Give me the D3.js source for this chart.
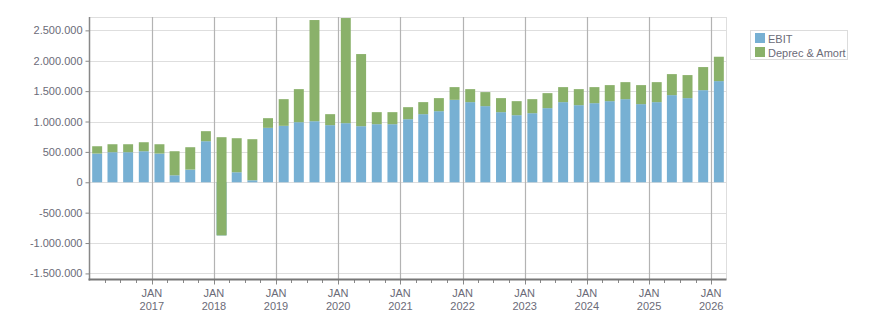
<!DOCTYPE html>
<html>
<head>
<meta charset="utf-8">
<script src="https://cdn.jsdelivr.net/npm/d3@7"></script>
<style>
  html, body { margin: 0; padding: 0; background: #fff; }
  svg { display: block; font-family: "Liberation Sans", Arial, sans-serif; }
</style>
</head>
<body>
<svg id="chart" width="876" height="313"></svg>
<script>
// Quarterly periods
const periods = [
  "2016-02-15","2016-05-15","2016-08-15","2016-11-15",
  "2017-02-15","2017-05-15","2017-08-15","2017-11-15",
  "2018-02-15","2018-05-15","2018-08-15","2018-11-15",
  "2019-02-15","2019-05-15","2019-08-15","2019-11-15",
  "2020-02-15","2020-05-15","2020-08-15","2020-11-15",
  "2021-02-15","2021-05-15","2021-08-15","2021-11-15",
  "2022-02-15","2022-05-15","2022-08-15","2022-11-15",
  "2023-02-15","2023-05-15","2023-08-15","2023-11-15",
  "2024-02-15","2024-05-15","2024-08-15","2024-11-15",
  "2025-02-15","2025-05-15","2025-08-15","2025-11-15",
  "2026-02-15"
];
const ebit = [
  473000, 495000, 495000, 511000,
  473000, 115000, 209000, 676000,
  -874000, 165000, 33000, 896000,
  929000, 989000, 1005000, 940000,
  973000, 923000, 956000, 956000,
  1038000, 1121000, 1170000, 1357000,
  1319000, 1253000, 1154000, 1104000,
  1137000, 1220000, 1319000, 1269000,
  1302000, 1335000, 1368000, 1286000,
  1319000, 1434000, 1385000, 1516000,
  1665000
];
const deprecAmort = [
  120000, 131000, 131000, 148000,
  153000, 396000, 368000, 165000,
  1616000, 560000, 676000, 159000,
  439000, 544000, 1665000, 181000,
  1730000, 1187000, 198000, 198000,
  198000, 198000, 215000, 209000,
  214000, 231000, 231000, 231000,
  231000, 247000, 247000, 264000,
  264000, 264000, 280000, 313000,
  329000, 346000, 379000, 380000,
  401000
];
const seriesNames = ["EBIT", "Deprec & Amort"];
const seriesColors = ["#77b0d3", "#8ab16a"];
const yTickValues = [-1500000, -1000000, -500000, 0, 500000, 1000000, 1500000, 2000000, 2500000];
const yDomain = [-1600000, 2720000];

const parse = d3.timeParse("%Y-%m-%d");
const rows = periods.map((p, i) => ({ date: parse(p), ebit: ebit[i], da: deprecAmort[i] }));

const svg = d3.select("#chart");
const m = { left: 89.5, right: 726.5, top: 17, bottom: 279.5 };
const dayMs = 864e5;
const x = d3.scaleTime()
  .domain([new Date(rows[0].date - 45 * dayMs), new Date(+rows[rows.length - 1].date + 45 * dayMs)])
  .range([m.left, m.right]);
const y = d3.scaleLinear().domain(yDomain).range([m.bottom, m.top]);

const locale = d3.formatLocale({ decimal: ",", thousands: ".", grouping: [3], currency: ["", ""], minus: "-" });
const fmt = locale.format(",d");
const textColor = "#6b6b78";

// horizontal gridlines
svg.append("g").selectAll("line").data(yTickValues).join("line")
  .attr("x1", m.left).attr("x2", m.right)
  .attr("y1", d => Math.round(y(d)) + 0.5).attr("y2", d => Math.round(y(d)) + 0.5)
  .attr("stroke", "#dedede").attr("stroke-width", 1);

// plot frame (top and right)
svg.append("line").attr("x1", m.left).attr("x2", m.right).attr("y1", m.top + 0.5).attr("y2", m.top + 0.5)
  .attr("stroke", "#dedede");
svg.append("line").attr("x1", m.right).attr("x2", m.right).attr("y1", m.top).attr("y2", m.bottom)
  .attr("stroke", "#dedede");

// vertical year gridlines
const years = d3.timeYear.range(d3.timeYear.ceil(x.domain()[0]), x.domain()[1]).filter(d => x(d) > m.left + 5);
svg.append("g").selectAll("line").data(years).join("line")
  .attr("x1", d => Math.round(x(d)) + 0.5).attr("x2", d => Math.round(x(d)) + 0.5)
  .attr("y1", m.top).attr("y2", m.bottom)
  .attr("stroke", "#b3b3b3").attr("stroke-width", 1.2);

// bars (naive cumulative stacking)
const stack = d3.stack().keys(["ebit", "da"]).offset(d3.stackOffsetNone);
const stacked = stack(rows);
const step = x(rows[1].date) - x(rows[0].date);
const bw = step * 0.65;
svg.append("g").selectAll("g").data(stacked).join("g")
  .attr("fill", (d, i) => seriesColors[i])
  .selectAll("rect").data(d => d).join("rect")
  .attr("x", d => x(d.data.date) - bw / 2)
  .attr("width", bw)
  .attr("y", d => y(Math.max(d[0], d[1])))
  .attr("height", d => Math.abs(y(d[0]) - y(d[1])));

// y axis
const yAxis = svg.append("g").attr("transform", `translate(${m.left},0)`)
  .call(d3.axisLeft(y).tickValues(yTickValues).tickFormat(fmt).tickSize(4).tickPadding(3));
yAxis.select(".domain").remove();
yAxis.selectAll(".tick line").attr("stroke", "#888");
yAxis.selectAll("text").attr("fill", textColor).attr("font-size", 11)
  .attr("font-family", "'Liberation Sans', Arial, sans-serif");
svg.append("line").attr("x1", m.left).attr("x2", m.left).attr("y1", m.top).attr("y2", m.bottom + 1)
  .attr("stroke", "#888").attr("stroke-width", 1.5);

// x axis: minor quarterly ticks
const quarters = d3.timeMonth.every(3).range(x.domain()[0], x.domain()[1]).filter(d => x(d) > m.left + 5);
const xAxisG = svg.append("g");
xAxisG.selectAll("line.minor").data(quarters.filter(d => d.getMonth() !== 0)).join("line")
  .attr("class", "minor")
  .attr("x1", d => Math.round(x(d)) + 0.5).attr("x2", d => Math.round(x(d)) + 0.5)
  .attr("y1", m.bottom).attr("y2", m.bottom + 3.5)
  .attr("stroke", "#888");
xAxisG.selectAll("line.major").data(years).join("line")
  .attr("class", "major")
  .attr("x1", d => Math.round(x(d)) + 0.5).attr("x2", d => Math.round(x(d)) + 0.5)
  .attr("y1", m.bottom).attr("y2", m.bottom + 5)
  .attr("stroke", "#888");
svg.append("line").attr("x1", m.left - 1).attr("x2", m.right).attr("y1", m.bottom).attr("y2", m.bottom)
  .attr("stroke", "#777").attr("stroke-width", 2);
const lbl = xAxisG.selectAll("text.lbl").data(years).join("text")
  .attr("class", "lbl")
  .attr("text-anchor", "middle")
  .attr("fill", textColor).attr("font-size", 11);
lbl.append("tspan").attr("x", d => x(d)).attr("y", 297).text("JAN");
lbl.append("tspan").attr("x", d => x(d)).attr("y", 309.5).text(d => d3.timeFormat("%Y")(d));

// legend
const lg = svg.append("g");
lg.append("rect").attr("x", 750.5).attr("y", 30.5).attr("width", 97).attr("height", 29)
  .attr("fill", "#fff").attr("stroke", "#dcdcdc");
const items = lg.selectAll("g.item").data(seriesNames).join("g").attr("class", "item")
  .attr("transform", (d, i) => `translate(755,${33 + i * 14})`);
items.append("rect").attr("width", 10).attr("height", 10).attr("fill", (d, i) => seriesColors[i]);
items.append("text").attr("x", 13).attr("y", 9.5).attr("fill", textColor).attr("font-size", 11).text(d => d);
</script>
</body>
</html>
